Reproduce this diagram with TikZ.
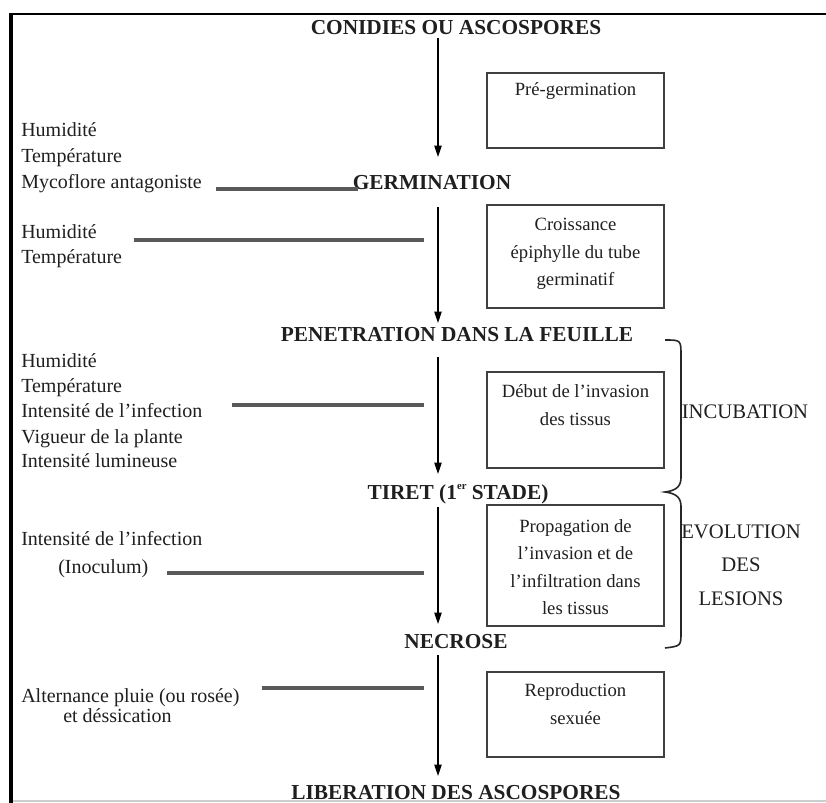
\documentclass[tikz,border=0pt]{standalone}
\usepackage{fontspec}
\setmainfont{Liberation Serif}
\usetikzlibrary{arrows.meta}
\begin{document}
\begin{tikzpicture}[x=0.75pt,y=-0.75pt,
  title/.style={font=\fontsize{16}{19}\selectfont\bfseries, inner sep=0pt, anchor=base, text=black!88},
  lefttxt/.style={font=\fontsize{15}{18}\selectfont, inner sep=0pt, anchor=base west, text=black!88},
  boxtxt/.style={font=\fontsize{14}{20.5}\selectfont, inner sep=0pt, align=center, text=black!88},
  sidetxt/.style={font=\fontsize{15.5}{19}\selectfont, inner sep=0pt, align=center, text=black!88},
  stagebox/.style={draw=black!75, line width=1.5pt, minimum width=132.75pt, inner sep=0pt},
  flow/.style={draw=black, line width=0.9pt, -{Triangle[length=8.5pt,width=5.5pt]}},
  lline/.style={draw=black!65, line width=2.3pt},
  bracel/.style={draw=black!85, line width=1.2pt}]
\useasboundingbox (0,0) rectangle (826,803);
% frame
\draw[black!20, line width=1.5pt] (11,801) -- (826,801);
\draw[black, line width=2.2pt] (9,14) -- (826,14);
\draw[black, line width=2.4pt] (11,13) -- (11,803);

% titles
\node[title] (conid) at (456,34) {CONIDIES OU ASCOSPORES};
\node[title] (germ) at (432,189) {GERMINATION};
\node[title] (pene) at (457,341) {PENETRATION DANS LA FEUILLE};
\node[title] (tiret) at (458,499) {TIRET (1\raisebox{0.45em}{\fontsize{8}{8}\selectfont er} STADE)};
\node[title] (necr) at (456,648) {NECROSE};
\node[title] (libe) at (456,799) {LIBERATION DES ASCOSPORES};

% arrows
\coordinate (a1s) at (438,38);  \coordinate (a1e) at (438,157);
\coordinate (a2s) at (438,207); \coordinate (a2e) at (438,323);
\coordinate (a3s) at (438,357); \coordinate (a3e) at (438,474);
\coordinate (a4s) at (438,507); \coordinate (a4e) at (438,624);
\coordinate (a5s) at (438,655); \coordinate (a5e) at (438,776);
\draw[flow] (a1s) -- (a1e);
\draw[flow] (a2s) -- (a2e);
\draw[flow] (a3s) -- (a3e);
\draw[flow] (a4s) -- (a4e);
\draw[flow] (a5s) -- (a5e);

% boxes
\node[stagebox, minimum height=56.25pt] (b1) at (575.5,110.5) {};
\node[stagebox, minimum height=77.25pt] (b2) at (575.5,256.5) {};
\node[stagebox, minimum height=72pt] (b3) at (575.5,420) {};
\node[stagebox, minimum height=90.75pt] (b4) at (575.5,565.5) {};
\node[stagebox, minimum height=63.75pt] (b5) at (575.5,714.5) {};

\node[boxtxt] (t1) at (575.5,91) {Pré-germination};
\node[boxtxt] (t2) at (575.5,254) {Croissance\\épiphylle du tube\\germinatif};
\node[boxtxt] (t3) at (575.5,405) {Début de l’invasion\\des tissus};
\node[boxtxt] (t4) at (575.5,567) {Propagation de\\l’invasion et de\\l’infiltration dans\\les tissus};
\node[boxtxt] (t5) at (575.5,704) {Reproduction\\sexuée};

% left factors
\node[lefttxt] (h1) at (21,136) {Humidité};
\node[lefttxt] (te1) at (21,162) {Température};
\node[lefttxt] (my1) at (21,188) {Mycoflore antagoniste};
\coordinate (l1a) at (216,189); \coordinate (l1b) at (358,189);
\draw[lline] (l1a) -- (l1b);

\node[lefttxt] (h2) at (21,238) {Humidité};
\node[lefttxt] (te2) at (21,263) {Température};
\coordinate (l2a) at (134,240); \coordinate (l2b) at (424,240);
\draw[lline] (l2a) -- (l2b);

\node[lefttxt] (h3) at (21,367) {Humidité};
\node[lefttxt] (te3) at (21,392) {Température};
\node[lefttxt] (in3) at (21,417) {Intensité de l’infection};
\node[lefttxt] (vi3) at (21,443) {Vigueur de la plante};
\node[lefttxt] (lu3) at (21,467) {Intensité lumineuse};
\coordinate (l3a) at (232,405); \coordinate (l3b) at (424,405);
\draw[lline] (l3a) -- (l3b);

\node[lefttxt] (in4) at (21,545) {Intensité de l’infection};
\node[lefttxt] (ino4) at (58,573) {(Inoculum)};
\coordinate (l4a) at (167,573); \coordinate (l4b) at (424,573);
\draw[lline] (l4a) -- (l4b);

\node[lefttxt] (al5) at (21,702) {Alternance pluie (ou rosée)};
\node[lefttxt] (de5) at (63,722) {et déssication};
\coordinate (l5a) at (262,688); \coordinate (l5b) at (424,688);
\draw[lline] (l5a) -- (l5b);

% brace
\draw[bracel] (665,340) .. controls (681,340) .. (681,356) -- (681,478)
  .. controls (681,489) and (672,491) .. (665,492)
  .. controls (672,493) and (681,495) .. (681,506) -- (681,632)
  .. controls (681,646) .. (665,648);

% side labels
\node[sidetxt] (incub) at (745,412) {INCUBATION};
\node[sidetxt, font=\fontsize{15.5}{25}\selectfont] (evol) at (741,565) {EVOLUTION\\DES\\LESIONS};
\end{tikzpicture}
\end{document}
